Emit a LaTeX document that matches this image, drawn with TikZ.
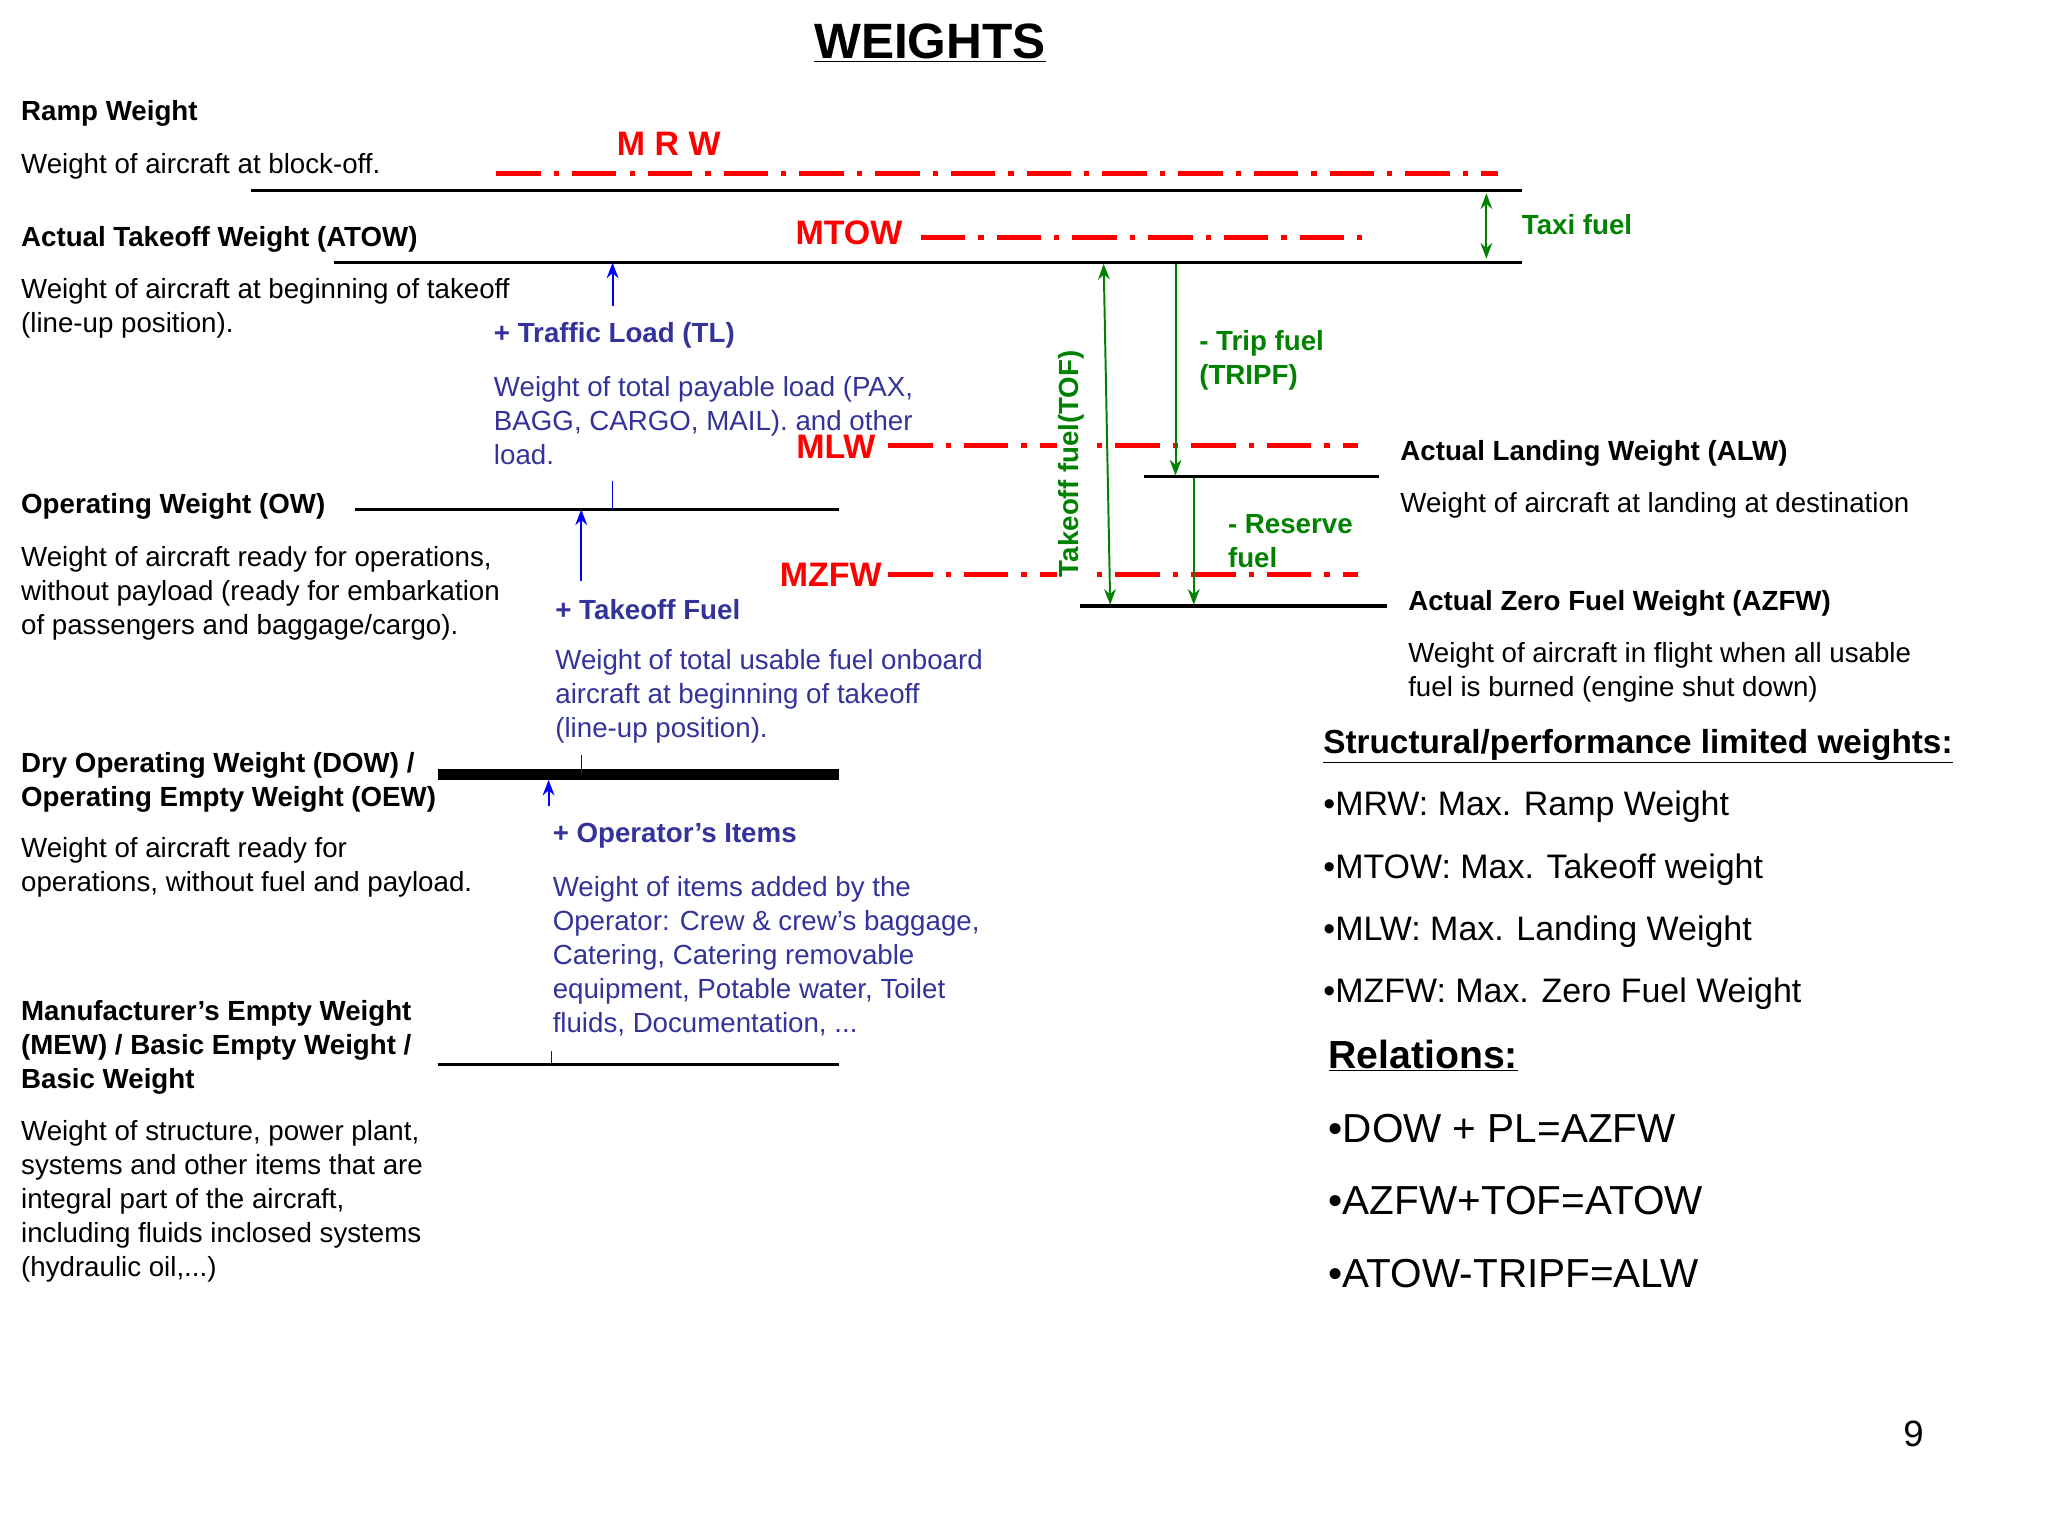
\documentclass[tikz,border=0pt]{standalone}
\usepackage{fontspec}
\setmainfont{Liberation Sans}
\usetikzlibrary{arrows.meta}
\definecolor{tblue}{RGB}{51,51,153}
\definecolor{tgreen}{RGB}{0,130,0}
\tikzset{x=1pt,y=-1pt,
 lbl/.style={anchor=west,inner sep=0pt,font=\fontsize{21.2}{26}\selectfont},
 hd/.style={lbl,font=\fontsize{21.2}{26}\selectfont\bfseries},
 bt/.style={lbl,text=tblue},
 bh/.style={hd,text=tblue},
 gt/.style={hd,text=tgreen},
 rt/.style={anchor=center,inner sep=0pt,text=red,font=\fontsize{26}{30}\selectfont\bfseries},
 lev/.style={line width=2.5pt},
 maxl/.style={red,line width=4pt,dash pattern=on 34pt off 10pt on 4pt off 10pt},
 barr/.style={blue,line width=1.5pt,-{Stealth[length=12pt,width=9pt]}},
 garr/.style={tgreen,line width=1.5pt,-{Stealth[length=12pt,width=9pt]}},
 garr2/.style={tgreen,line width=1.5pt,{Stealth[length=12pt,width=9pt]}-{Stealth[length=12pt,width=9pt]}},
 rs/.style={anchor=west,inner sep=0pt,font=\fontsize{26}{30}\selectfont},
 rr/.style={anchor=west,inner sep=0pt,font=\fontsize{31}{36}\selectfont},
}
\begin{document}
\begin{tikzpicture}
\useasboundingbox (0,0) rectangle (1568,1176);
\node[anchor=center,font=\fontsize{38}{40}\selectfont\bfseries] (title) at (712,33) {\underline{WEIGHTS}};
% ramp
\node[hd] (rw) at (16,87) {Ramp Weight};
\node[lbl] (rwt) at (16,127) {Weight of aircraft at block-off.};
\coordinate (r1) at (192,146); \coordinate (r2) at (1165,146);
\draw[lev] (r1) -- (r2);
\node[rt] (mrw) at (512,110) {M R W};
\coordinate (m1) at (380,133); \coordinate (m2) at (1147,133);
\draw[maxl] (m1) -- (m2);
% ATOW
\node[hd] (atow) at (16,183) {Actual Takeoff Weight (ATOW)};
\node[lbl,align=left] (atowt) at (16,236) {Weight of aircraft at beginning of takeoff\\(line-up position).};
\coordinate (a1) at (256,201); \coordinate (a2) at (1165,201);
\draw[lev] (a1) -- (a2);
\node[rt] (mtow) at (650,178) {MTOW};
\coordinate (t1) at (705,182); \coordinate (t2) at (1050,182);
\draw[maxl] (t1) -- (t2);
\coordinate (tx1) at (1138,148); \coordinate (tx2) at (1138,198);
\draw[garr2] (tx1) -- (tx2);
\node[gt] (taxi) at (1165,172) {Taxi fuel};
% traffic load
\coordinate (tl1) at (469,234); \coordinate (tl2) at (469,201);
\draw[barr] (tl1) -- (tl2);
\node[bh] (tl) at (378,257) {+ Traffic Load (TL)};
\node[bt,align=left] (tlt) at (378,322) {Weight of total payable load (PAX,\\BAGG, CARGO, MAIL). and other\\load.};
\coordinate (ml1) at (680,341); \coordinate (ml2) at (1040,341);
\draw[maxl] (ml1) -- (ml2);
\node[rt,fill=white,inner sep=1pt] (mlw) at (640,342) {MLW};
% OW
\node[hd] (ow) at (16,388) {Operating Weight (OW)};
\node[lbl,align=left] (owt) at (16,454) {Weight of aircraft ready for operations,\\without payload (ready for embarkation\\of passengers and baggage/cargo).};
\coordinate (o1) at (272,390); \coordinate (o2) at (642,390);
\draw[lev] (o1) -- (o2);
\coordinate (k1) at (469,368); \coordinate (k2) at (469,390);
\draw[blue,line width=1pt] (k1) -- (k2);
\coordinate (tf1) at (445,445); \coordinate (tf2) at (445,390);
\draw[barr] (tf1) -- (tf2);
\node[bh] (tf) at (425,467) {+ Takeoff Fuel};
\node[bt,align=left] (tft) at (425,533) {Weight of total usable fuel onboard\\aircraft at beginning of takeoff\\(line-up position).};
\coordinate (mz1) at (680,440); \coordinate (mz2) at (1040,440);
\draw[maxl] (mz1) -- (mz2);
\node[rt] (mzfw) at (636,440) {MZFW};
% ALW / AZFW
\coordinate (al1) at (876,365); \coordinate (al2) at (1056,365);
\draw[lev] (al1) -- (al2);
\coordinate (az1) at (827,464); \coordinate (az2) at (1062,464);
\draw[lev] (az1) -- (az2);
\node[gt,rotate=90,anchor=center,fill=white,inner sep=1pt] (tof) at (820,355) {Takeoff fuel(TOF)};
\coordinate (tof1) at (845,202); \coordinate (tof2) at (850,463);
\draw[garr2] (tof1) -- (tof2);
\coordinate (tr1) at (900,202); \coordinate (tr2) at (900,364);
\draw[garr] (tr1) -- (tr2);
\node[gt,align=left] (trip) at (918,276) {- Trip fuel\\(TRIPF)};
\coordinate (re1) at (914,366); \coordinate (re2) at (914,463);
\draw[garr] (re1) -- (re2);
\node[gt,align=left] (res) at (940,414) {- Reserve\\fuel};
\node[hd] (alw) at (1072,347) {Actual Landing Weight (ALW)};
\node[lbl] (alwt) at (1072,387) {Weight of aircraft at landing at destination};
\node[hd] (azfw) at (1078,462) {Actual Zero Fuel Weight (AZFW)};
\node[lbl,align=left] (azfwt) at (1078,515) {Weight of aircraft in flight when all usable\\fuel is burned (engine shut down)};
% DOW
\node[hd,align=left] (dow) at (16,599) {Dry Operating Weight (DOW) /\\Operating Empty Weight (OEW)};
\node[lbl,align=left] (dowt) at (16,664) {Weight of aircraft ready for\\operations, without fuel and payload.};
\coordinate (d1) at (335,593); \coordinate (d2) at (642,593);
\draw[line width=8pt] (d1) -- (d2);
\coordinate (dk1) at (445,578); \coordinate (dk2) at (445,593);
\draw[blue,line width=1pt] (dk1) -- (dk2);
\coordinate (oi1) at (420,617); \coordinate (oi2) at (420,597);
\draw[barr] (oi1) -- (oi2);
\node[bh] (oi) at (423,640) {+ Operator’s Items};
\node[bt,align=left] (oit) at (423,732) {Weight of items added by the\\Operator: Crew \& crew’s baggage,\\Catering, Catering removable\\equipment, Potable water, Toilet\\fluids, Documentation, ...};
% MEW
\node[hd,align=left] (mew) at (16,802) {Manufacturer’s Empty Weight\\(MEW) / Basic Empty Weight /\\Basic Weight};
\coordinate (e1) at (335,815); \coordinate (e2) at (642,815);
\draw[lev] (e1) -- (e2);
\coordinate (ek1) at (422,805); \coordinate (ek2) at (422,815);
\draw[blue,line width=1pt] (ek1) -- (ek2);
\node[lbl,align=left] (mewt) at (16,920) {Weight of structure, power plant,\\systems and other items that are\\integral part of the aircraft,\\including fluids inclosed systems\\(hydraulic oil,...)};
% right side
\node[anchor=west,inner sep=0pt,font=\fontsize{25.5}{30}\selectfont\bfseries] (sp) at (1013,571) {\underline{Structural/performance limited weights:}};
\node[rs] (b1) at (1013,618) {•MRW: Max. Ramp Weight};
\node[rs] (b2) at (1013,666) {•MTOW: Max. Takeoff weight};
\node[rs] (b3) at (1013,713) {•MLW: Max. Landing Weight};
\node[rs] (b4) at (1013,761) {•MZFW: Max. Zero Fuel Weight};
\node[anchor=west,inner sep=0pt,font=\fontsize{30}{36}\selectfont\bfseries] (rel) at (1017,808) {\underline{Relations:}};
\node[rr] (r1t) at (1017,864) {•DOW + PL=AZFW};
\node[rr] (r2t) at (1017,919) {•AZFW+TOF=ATOW};
\node[rr] (r3t) at (1017,975) {•ATOW-TRIPF=ALW};
\node[anchor=center,inner sep=0pt,font=\fontsize{28}{30}\selectfont] (pg) at (1465,1098) {9};
\end{tikzpicture}
\end{document}
